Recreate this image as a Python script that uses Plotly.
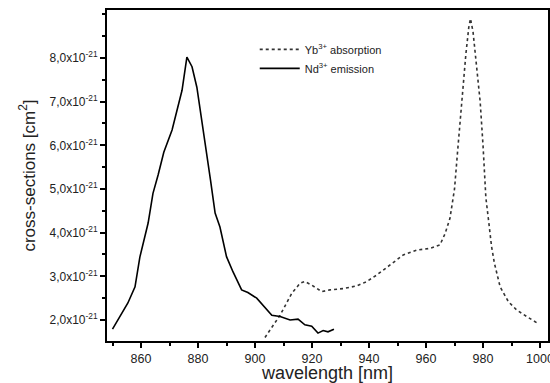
import plotly.graph_objects as go

# Nd3+ emission (wavelength nm, cross-section in 1e-21 cm^2)
nd_wl = [850, 855.4, 857.9, 859.6, 862.5, 864.2, 866, 868, 870.9, 873, 874.4, 876.1,
         877.9, 879.6, 883, 884.4, 886, 887.7, 890, 892.3, 895.3, 897.5, 900.6,
         902.8, 905.9, 908.8, 912.3, 915.1, 917.5, 919.9, 922.1, 923.9, 925.6, 927.7]
nd_cs = [1.79, 2.39, 2.76, 3.44, 4.22, 4.9, 5.32, 5.84, 6.35, 6.87, 7.26, 8.02,
         7.8, 7.33, 5.9, 5.2, 4.45, 4.13, 3.45, 3.1, 2.69, 2.63, 2.5,
         2.34, 2.11, 2.08, 2.0, 2.02, 1.89, 1.86, 1.70, 1.76, 1.73, 1.79]

# Yb3+ absorption
yb_wl = [903.5, 908.8, 912.9, 915.8, 917.5, 919.9, 923.4, 926.3, 931, 935.7, 939.2,
         942.7, 947.4, 952, 956.7, 961.4, 964.9, 966.7, 968.4, 970, 971, 972, 973,
         974, 975, 975.6, 976.5, 977.5, 979, 980, 981, 982, 983, 984, 986, 988.9,
         991.8, 995.3, 998.8]
yb_cs = [1.6, 2.11, 2.61, 2.84, 2.88, 2.8, 2.65, 2.69, 2.72, 2.78, 2.88,
         3.03, 3.26, 3.49, 3.6, 3.64, 3.72, 3.98, 4.33, 5.0, 5.8, 6.6, 7.4,
         8.1, 8.7, 8.9, 8.6, 7.9, 7.0, 6.0, 4.8, 4.25, 3.68, 3.3, 2.76, 2.42,
         2.23, 2.08, 1.94]

y_ticks = [2, 3, 4, 5, 6, 7, 8]
y_ticktext = ["%d,0x10<sup>-21</sup>" % v for v in y_ticks]
x_ticks = [860, 880, 900, 920, 940, 960, 980, 1000]

font = "Liberation Sans, Arial, sans-serif"

fig = go.Figure()
fig.add_trace(go.Scatter(x=yb_wl, y=yb_cs, mode="lines",
                         name="Yb<sup>3+</sup> absorption",
                         line=dict(color="#333333", width=1.6, dash="dot")))
fig.add_trace(go.Scatter(x=nd_wl, y=nd_cs, mode="lines",
                         name="Nd<sup>3+</sup> emission",
                         line=dict(color="black", width=1.6)))

fig.update_layout(
    width=550, height=383,
    margin=dict(l=107, r=2, t=10, b=42, autoexpand=False),
    paper_bgcolor="white", plot_bgcolor="white",
    font=dict(family=font, color="#222222", size=12),
    showlegend=True,
    legend=dict(x=0.335, y=0.925, xanchor="left", yanchor="top",
                bgcolor="rgba(0,0,0,0)", font=dict(size=11, color="#222222"),
                tracegroupgap=0, itemwidth=40),
    xaxis=dict(range=[848.07, 1002.8], tickvals=x_ticks, ticks="outside",
               ticklen=5, tickwidth=1.5, tickcolor="black",
               showline=True, linecolor="black", linewidth=2, mirror=True,
               showgrid=False, zeroline=False, automargin=False,
               ticklabeloverflow="allow",
               minor=dict(dtick=10, tick0=850, ticks="outside", ticklen=3,
                          tickwidth=1.5, tickcolor="black", showgrid=False),
               tickfont=dict(size=12.5),
               title=dict(text="wavelength [nm]", font=dict(size=18), standoff=0)),
    yaxis=dict(range=[1.519, 9.099], tickvals=y_ticks, ticktext=y_ticktext,
               ticks="outside", ticklen=5, tickwidth=1.5, tickcolor="black",
               showline=True, linecolor="black", linewidth=2, mirror=True,
               showgrid=False, zeroline=False, automargin=False,
               minor=dict(dtick=0.5, tick0=1.5, ticks="outside", ticklen=3,
                          tickwidth=1.5, tickcolor="black", showgrid=False),
               tickfont=dict(size=12),
               title=dict(text="cross-sections [cm<sup>2</sup>]", font=dict(size=17),
                          standoff=10)),
)

fig.write_html("out.html", config={"displayModeBar": False},
               post_script="document.body.style.margin='0';document.body.style.overflow='hidden';")
